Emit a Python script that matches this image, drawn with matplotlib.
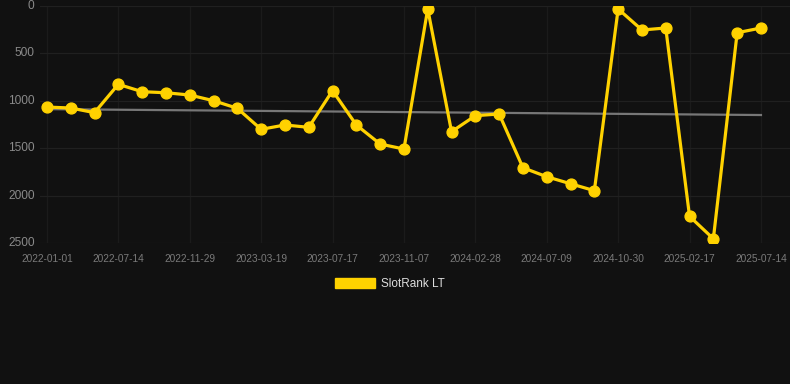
import matplotlib
matplotlib.use("Agg")
import matplotlib.pyplot as plt
from matplotlib.patches import Patch

dates = ["2022-01-01", "", "", "2022-07-14", "", "", "2022-11-29", "", "",
         "2023-03-19", "", "", "2023-07-17", "", "", "2023-11-07", "", "",
         "2024-02-28", "", "", "2024-07-09", "", "", "2024-10-30", "", "",
         "2025-02-17", "", "", "2025-07-14"]
rank = [1066, 1076, 1125, 826, 904, 915, 939, 999, 1079, 1301, 1255, 1280,
        893, 1255, 1456, 1509, 31, 1326, 1157, 1139, 1706, 1801, 1875, 1948,
        31, 253, 232, 2219, 2455, 282, 232]
trend_ends = [1088, 1150]
y_ticks = [0, 500, 1000, 1500, 2000, 2500]

plt.rcParams['font.family'] = ['Liberation Sans', 'DejaVu Sans']
bg = "#111111"
fig = plt.figure(figsize=(7.9, 3.84), dpi=100, facecolor=bg)
ax = fig.add_axes([40/790, (384-243)/384, (790-40)/790, (243-6)/384], facecolor=bg)

x = list(range(len(rank)))
ax.plot([x[0], x[-1]], trend_ends, color="#777777", lw=1.6, zorder=2)
ax.plot(x, rank, color="#FFD200", lw=2.3, marker="o", ms=7.8, zorder=3)

ax.set_xlim(-0.29, 31.22)
ax.set_ylim(2500, 0)
ax.set_yticks(y_ticks)
ax.set_yticklabels([str(v) for v in y_ticks])
tick_idx = [i for i, d in enumerate(dates) if d]
ax.set_xticks(tick_idx)
ax.set_xticklabels([dates[i] for i in tick_idx])
ax.grid(True, axis='y', color="#202020", lw=0.9)
ax.grid(True, axis='x', color="#1b1b1b", lw=0.9)
ax.set_axisbelow(True)
for s in ax.spines.values():
    s.set_visible(False)
ax.tick_params(axis='y', length=0, pad=4, labelsize=8.6, labelcolor="#8a8a8a")
ax.tick_params(axis='x', length=0, pad=8, labelsize=7.3, labelcolor="#7a7a7a")
for lbl in ax.get_yticklabels():
    lbl.set_verticalalignment('center')

handle = Patch(facecolor="#FFD200", edgecolor="#FFD200")
fig.legend([handle], ["SlotRank LT"], loc="center", bbox_to_anchor=(390/790, 1-284/384),
           frameon=False, fontsize=8.5, labelcolor="#dddddd",
           handlelength=3.4, handleheight=1.0, handletextpad=0.5)

fig.savefig("out.png", dpi=100, facecolor=bg)
